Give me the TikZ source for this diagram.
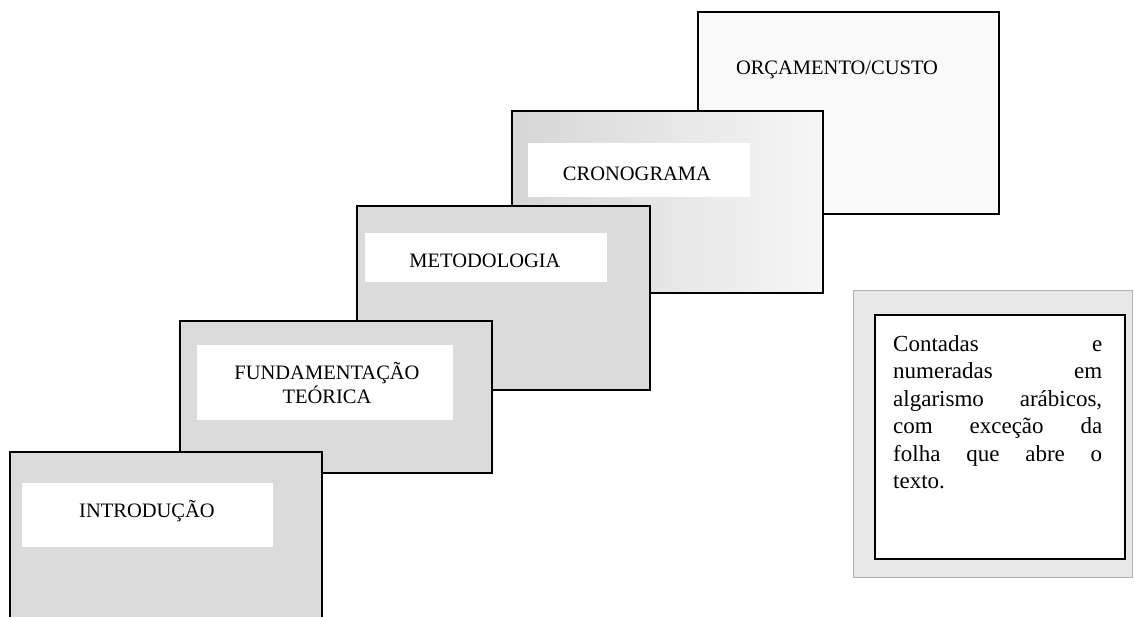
\documentclass[tikz,border=0pt]{standalone}
\usepackage{fontspec}
\setmainfont{Liberation Serif}
\begin{document}
\begin{tikzpicture}[x=1pt,y=-1pt,
  card/.style={draw=black, line width=1.8pt, fill=gray!28, inner sep=0pt},
  lightcard/.style={card, fill=gray!5},
  midcard/.style={card, left color=gray!32, right color=gray!7},
  hole/.style={fill=white, inner sep=0pt},
  lbl/.style={font=\fontsize{20.5}{24}\selectfont, inner sep=0pt, align=center},
  sidetxt/.style={font=\fontsize{23}{27.5}\selectfont, inner sep=0pt, anchor=base west},
  noteframe/.style={draw=gray!60, line width=0.5pt, fill=gray!18, inner sep=0pt},
  notebox/.style={draw=black, line width=1.5pt, fill=white, inner sep=0pt}
]
\useasboundingbox (0,0) rectangle (1134,616);
\clip (0,0) rectangle (1134,616);
\fill[white] (0,0) rectangle (1134,616);

% card 5
\node[lightcard, minimum width=301pt, minimum height=202pt] (c5) at (848.5,113) {};
\node[lbl, anchor=base] (l5) at (837,74) {ORÇAMENTO/CUSTO};

% card 4
\node[midcard, minimum width=311pt, minimum height=182pt] (c4) at (667.5,202) {};
\node[hole, minimum width=222pt, minimum height=54pt] (w4) at (639,170) {};
\node[lbl, anchor=base] (l4) at (637,180) {CRONOGRAMA};

% card 3
\node[card, minimum width=293pt, minimum height=184pt] (c3) at (503.5,298) {};
\node[hole, minimum width=242pt, minimum height=49pt] (w3) at (486,257.5) {};
\node[lbl, anchor=base] (l3) at (485,267) {METODOLOGIA};

% card 2
\node[card, minimum width=312pt, minimum height=152pt] (c2) at (336,397) {};
\node[hole, minimum width=256pt, minimum height=75pt] (w2) at (325,382.5) {};
\node[lbl] (l2) at (327,383) {FUNDAMENTAÇÃO\\TEÓRICA};

% card 1
\node[card, minimum width=312pt, minimum height=178pt] (c1) at (166,541) {};
\node[hole, minimum width=251pt, minimum height=64pt] (w1) at (147.5,515) {};
\node[lbl, anchor=base] (l1) at (147,517) {INTRODUÇÃO};

% side note
\node[noteframe, minimum width=279pt, minimum height=287pt] (nf) at (992.5,433.5) {};
\node[notebox, minimum width=250pt, minimum height=244pt] (nb) at (1000,437) {};
\node[sidetxt] (nt) at (893,351) {\parbox[t]{209pt}{\baselineskip=27.5pt
\hbox to 209pt{Contadas\hfill e}
\hbox to 209pt{numeradas\hfill em}
\hbox to 209pt{algarismo\hfill arábicos,}
\hbox to 209pt{com\hfill exceção\hfill da}
\hbox to 209pt{folha\hfill que\hfill abre\hfill o}
\hbox{texto.}}};
\end{tikzpicture}
\end{document}
